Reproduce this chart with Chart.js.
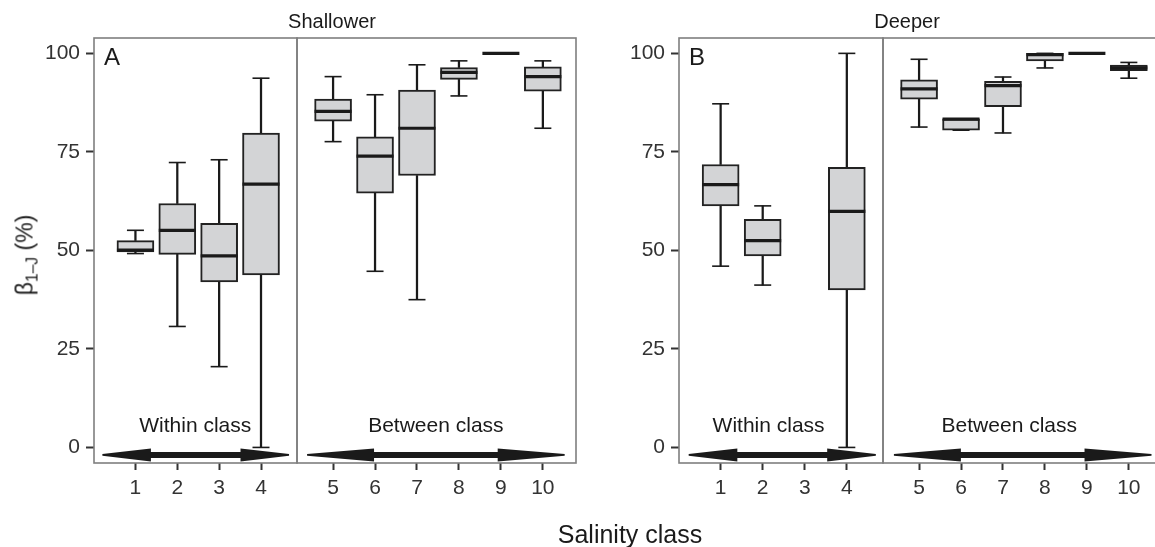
<!DOCTYPE html>
<html>
<head>
<meta charset="utf-8">
<script src="https://cdn.jsdelivr.net/npm/chart.js@4.4.1/dist/chart.umd.min.js"></script>
<style>
html, body { margin: 0; padding: 0; background: #fff; overflow: hidden; }
#wrap { position: relative; width: 1155px; height: 547px; overflow: hidden; font-family: "Liberation Sans", Arial, sans-serif; color: #1a1a1a; }
#wrap canvas { position: absolute; top: 0; }
.t { position: absolute; white-space: nowrap; transform: translateX(-50%); }
#ylab { position: absolute; left: 25px; top: 255px; font-size: 23px; line-height: 23px; white-space: nowrap; transform: translate(-50%, -50%) rotate(-90deg); }
#ylab sub { font-size: 0.68em; vertical-align: -0.3em; line-height: 0; }
</style>
</head>
<body>
<div id="wrap">
  <canvas id="shallowWithin" width="299" height="547" style="left:0px"></canvas>
  <canvas id="shallowBetween" width="283" height="547" style="left:295px"></canvas>
  <canvas id="deeperWithin" width="300" height="547" style="left:585px"></canvas>
  <canvas id="deeperBetween" width="283" height="547" style="left:881px"></canvas>
  <div class="t" style="left:332px; top:11px; font-size:20px; line-height:20px;">Shallower</div>
  <div class="t" style="left:907px; top:11px; font-size:20px; line-height:20px;">Deeper</div>
  <div class="t" style="left:630px; top:522px; font-size:25px; line-height:25px;">Salinity class</div>
  <div id="ylab">β<sub>1–J</sub> (%)</div>
</div>
<script>
// salinity classes and tick values
var classes = [1, 2, 3, 4, 5, 6, 7, 8, 9, 10];
var withinClasses = [1, 2, 3, 4];
var betweenClasses = [5, 6, 7, 8, 9, 10];
var yTicks = [0, 25, 50, 75, 100];

// Shallower: box plot stats per class
var shallowMin    = [49.2, 30.7, 20.5,  0.0, 77.6, 44.7, 37.5, 89.2, 100, 81.0];
var shallowQ1     = [49.6, 49.0, 42.0, 43.8, 82.8, 64.5, 69.0, 93.4, 100, 90.4];
var shallowMedian = [50.1, 55.1, 48.6, 66.8, 85.3, 73.9, 81.0, 95.2, 100, 94.1];
var shallowQ3     = [52.5, 61.9, 56.9, 79.8, 88.4, 78.8, 90.7, 96.4, 100, 96.6];
var shallowMax    = [55.1, 72.3, 73.0, 93.7, 94.1, 89.5, 97.1, 98.1, 100, 98.1];

// Deeper: class 3 has no data
var deeperMin    = [46.0, 41.2, null,  0.0, 81.3, 80.5, 79.8, 96.3, 100, 93.7];
var deeperQ1     = [61.3, 48.6, null, 40.0, 88.4, 80.5, 86.5, 98.1, 100, 95.6];
var deeperMedian = [66.7, 52.5, null, 59.9, 91.0, 83.3, 91.8, 99.7, 100, 96.3];
var deeperQ3     = [71.8, 57.9, null, 71.1, 93.3, 83.4, 92.9, 100, 100, 97.0];
var deeperMax    = [87.2, 61.3, null, 100, 98.5, 83.4, 94.0, 100, 100, 97.7];

var shallow = { min: shallowMin, q1: shallowQ1, median: shallowMedian, q3: shallowQ3, max: shallowMax };
var deeper = { min: deeperMin, q1: deeperQ1, median: deeperMedian, q3: deeperQ3, max: deeperMax };

var FONT = '"Liberation Sans", Arial, sans-serif';
var INK = '#1a1a1a';
var ARROW_Y = -1.9;
var LABEL_Y = 3.9;

// border, arrow, caption and panel letter
var panelDecor = {
    id: 'panelDecor',
    afterDatasetsDraw: function(chart, args, o) {
        var ctx = chart.ctx, xs = chart.scales.x, ys = chart.scales.y, a = chart.chartArea;
        var x0 = xs.getPixelForValue(o.arrow[0]);
        var x1 = xs.getPixelForValue(o.arrow[1]);
        var yc = ys.getPixelForValue(ARROW_Y);
        var head = (x1 - x0) * 0.26;
        ctx.save();
        ctx.fillStyle = INK;
        ctx.beginPath();
        ctx.moveTo(x0, yc - 0.8);
        ctx.lineTo(x0 + head, yc - 6.5);
        ctx.lineTo(x0 + head, yc - 3);
        ctx.lineTo(x1 - head, yc - 3);
        ctx.lineTo(x1 - head, yc - 6.5);
        ctx.lineTo(x1, yc - 0.8);
        ctx.lineTo(x1, yc + 0.8);
        ctx.lineTo(x1 - head, yc + 6.5);
        ctx.lineTo(x1 - head, yc + 3);
        ctx.lineTo(x0 + head, yc + 3);
        ctx.lineTo(x0 + head, yc + 6.5);
        ctx.lineTo(x0, yc + 0.8);
        ctx.closePath();
        ctx.fill();

        ctx.font = '21px ' + FONT;
        ctx.textAlign = 'center';
        ctx.textBaseline = 'alphabetic';
        ctx.fillText(o.label, xs.getPixelForValue(o.labelX), ys.getPixelForValue(LABEL_Y));

        if (o.letter) {
            ctx.font = '24px ' + FONT;
            ctx.textAlign = 'left';
            ctx.fillText(o.letter, a.left + 10, a.top + 27);
        }

        ctx.strokeStyle = '#7f7f7f';
        ctx.lineWidth = 1.6;
        ctx.strokeRect(a.left, a.top, a.right - a.left, a.bottom - a.top);
        ctx.restore();
    }
};

function makePanel(id, xClasses, stats, cfg) {
    var boxes = [], whiskers = [], caps = [], medians = [];
    xClasses.forEach(function(c) {
        var i = classes.indexOf(c);
        if (stats.median[i] === null) return;
        boxes.push({ x: c, y: [stats.q1[i], stats.q3[i]] });
        whiskers.push({ x: c, y: [stats.min[i], stats.q1[i]] });
        whiskers.push({ x: c, y: [stats.q3[i], stats.max[i]] });
        caps.push({ x: c, y: stats.min[i] });
        caps.push({ x: c, y: stats.max[i] });
        medians.push({ x: c, y: stats.median[i] });
    });

    var tickFont = { family: FONT, size: 21 };

    new Chart(document.getElementById(id), {
        type: 'bar',
        data: {
            datasets: [
                {
                    type: 'line', data: medians, order: 0, showLine: false,
                    pointStyle: 'line', pointRadius: 18.5, pointHoverRadius: 18.5,
                    pointBorderWidth: 3.2, pointBorderColor: INK, borderColor: INK
                },
                {
                    type: 'line', data: caps, order: 1, showLine: false,
                    pointStyle: 'line', pointRadius: 8.5, pointHoverRadius: 8.5,
                    pointBorderWidth: 1.6, pointBorderColor: INK, borderColor: INK
                },
                {
                    type: 'bar', data: boxes, order: 2, grouped: false,
                    barThickness: 37, backgroundColor: '#d3d4d6',
                    borderColor: '#222', borderWidth: 2, borderSkipped: false
                },
                {
                    type: 'bar', data: whiskers, order: 3, grouped: false,
                    barThickness: 1.6, backgroundColor: INK, borderWidth: 0
                }
            ]
        },
        options: {
            responsive: false,
            devicePixelRatio: 1,
            animation: false,
            events: [],
            layout: { autoPadding: false, padding: cfg.padding },
            plugins: {
                legend: { display: false },
                tooltip: { enabled: false },
                panelDecor: cfg.decor
            },
            scales: {
                x: {
                    type: 'linear', offset: false,
                    min: cfg.xRange[0], max: cfg.xRange[1],
                    afterBuildTicks: function(s) {
                        s.ticks = xClasses.map(function(v) { return { value: v }; });
                    },
                    afterFit: function(s) { s.height = 84; },
                    grid: { display: true, offset: false, drawOnChartArea: false, drawTicks: true, tickLength: 7, tickColor: '#333', tickWidth: 2 },
                    border: { display: false },
                    ticks: { padding: 6, color: '#333', font: tickFont, maxRotation: 0, autoSkip: false }
                },
                y: {
                    type: 'linear', display: cfg.showY,
                    min: -3.95, max: 103.9,
                    afterBuildTicks: function(s) {
                        s.ticks = yTicks.map(function(v) { return { value: v }; });
                    },
                    afterFit: function(s) { s.width = cfg.showY ? 94 : 0; },
                    grid: { display: true, drawOnChartArea: false, drawTicks: true, tickLength: 8, tickColor: '#333', tickWidth: 2 },
                    border: { display: false },
                    ticks: { padding: 6, color: '#333', font: tickFont }
                }
            }
        },
        plugins: [panelDecor]
    });
}

makePanel('shallowWithin', withinClasses, shallow, {
    showY: true, xRange: [0.01, 4.86],
    padding: { left: 0, right: 2, top: 38, bottom: 0 },
    decor: { arrow: [0.21, 4.67], label: 'Within class', labelX: 2.43, letter: 'A' }
});
makePanel('shallowBetween', betweenClasses, shallow, {
    showY: false, xRange: [4.14, 10.79],
    padding: { left: 2, right: 2, top: 38, bottom: 0 },
    decor: { arrow: [4.38, 10.52], label: 'Between class', labelX: 7.45 }
});
makePanel('deeperWithin', withinClasses, deeper, {
    showY: true, xRange: [0.01, 4.86],
    padding: { left: 0, right: 2, top: 38, bottom: 0 },
    decor: { arrow: [0.24, 4.69], label: 'Within class', labelX: 2.14, letter: 'B' }
});
makePanel('deeperBetween', betweenClasses, deeper, {
    showY: false, xRange: [4.14, 10.79],
    padding: { left: 2, right: 2, top: 38, bottom: 0 },
    decor: { arrow: [4.40, 10.54], label: 'Between class', labelX: 7.15 }
});
</script>
</body>
</html>
